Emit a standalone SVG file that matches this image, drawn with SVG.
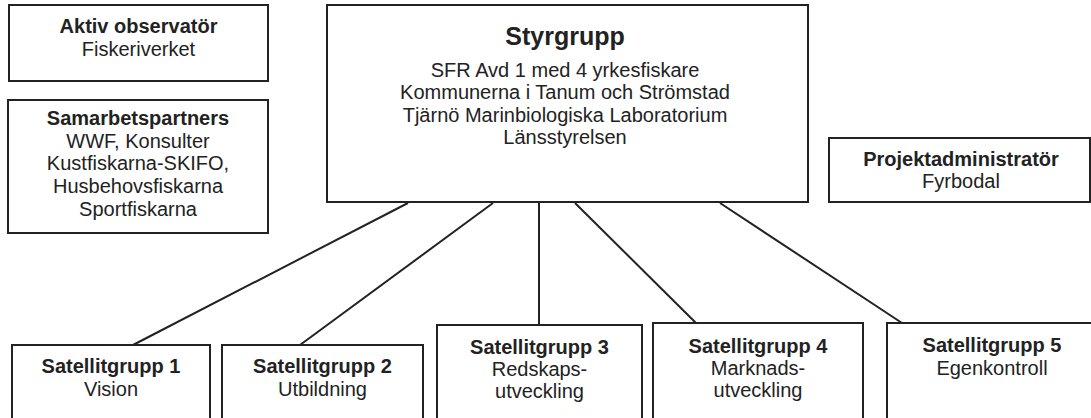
<svg xmlns="http://www.w3.org/2000/svg" width="1091" height="418" viewBox="0 0 1091 418">
<style>
.box{fill:#fff;stroke:#222;stroke-width:2}
.con line{stroke:#222;stroke-width:2}
text{font-family:"Liberation Sans",Arial,sans-serif;font-size:20px;fill:#222;text-anchor:middle}
.b{font-weight:bold}
.t{font-weight:bold;font-size:25px}
</style>
<rect width="1091" height="418" fill="#fff"/>
<g class="con">
<line x1="408" y1="203" x2="133" y2="345"/>
<line x1="493" y1="203" x2="300" y2="345"/>
<line x1="539" y1="203" x2="539" y2="325"/>
<line x1="575" y1="203" x2="696" y2="323"/>
<line x1="720" y1="203" x2="902" y2="323"/>
</g>
<g id="aktiv">
<rect class="box" x="9" y="5" width="259" height="76"/>
<text class="b" x="138.5" y="33">Aktiv observatör</text>
<text x="138.5" y="56">Fiskeriverket</text>
</g>
<g id="samarbetspartners">
<rect class="box" x="8" y="100" width="260" height="133"/>
<text class="b" x="138" y="125">Samarbetspartners</text>
<text x="138" y="148">WWF, Konsulter</text>
<text x="138" y="170">Kustfiskarna-SKIFO,</text>
<text x="138" y="193">Husbehovsfiskarna</text>
<text x="138" y="216">Sportfiskarna</text>
</g>
<g id="styrgrupp">
<rect class="box" x="327" y="5" width="481" height="197"/>
<text class="t" x="565" y="45">Styrgrupp</text>
<text x="565" y="77">SFR Avd 1 med 4 yrkesfiskare</text>
<text x="565" y="99">Kommunerna i Tanum och Strömstad</text>
<text x="565" y="122">Tjärnö Marinbiologiska Laboratorium</text>
<text x="565" y="144">Länsstyrelsen</text>
</g>
<g id="projektadministrator">
<rect class="box" x="829" y="138" width="261" height="64"/>
<text class="b" x="961" y="166">Projektadministratör</text>
<text x="961" y="188">Fyrbodal</text>
</g>
<g id="sat1">
<rect class="box" x="12" y="345" width="198" height="90"/>
<text class="b" x="111" y="373">Satellitgrupp 1</text>
<text x="111" y="396">Vision</text>
</g>
<g id="sat2">
<rect class="box" x="222" y="345" width="201" height="90"/>
<text class="b" x="322.5" y="373">Satellitgrupp 2</text>
<text x="322.5" y="396">Utbildning</text>
</g>
<g id="sat3">
<rect class="box" x="437" y="325" width="205" height="110"/>
<text class="b" x="539.5" y="354">Satellitgrupp 3</text>
<text x="539.5" y="376">Redskaps-</text>
<text x="539.5" y="398">utveckling</text>
</g>
<g id="sat4">
<rect class="box" x="653" y="323" width="210" height="110"/>
<text class="b" x="758" y="353">Satellitgrupp 4</text>
<text x="758" y="375">Marknads-</text>
<text x="758" y="397">utveckling</text>
</g>
<g id="sat5">
<rect class="box" x="887" y="323" width="213" height="110"/>
<text class="b" x="992" y="352">Satellitgrupp 5</text>
<text x="992" y="375">Egenkontroll</text>
</g>
</svg>
